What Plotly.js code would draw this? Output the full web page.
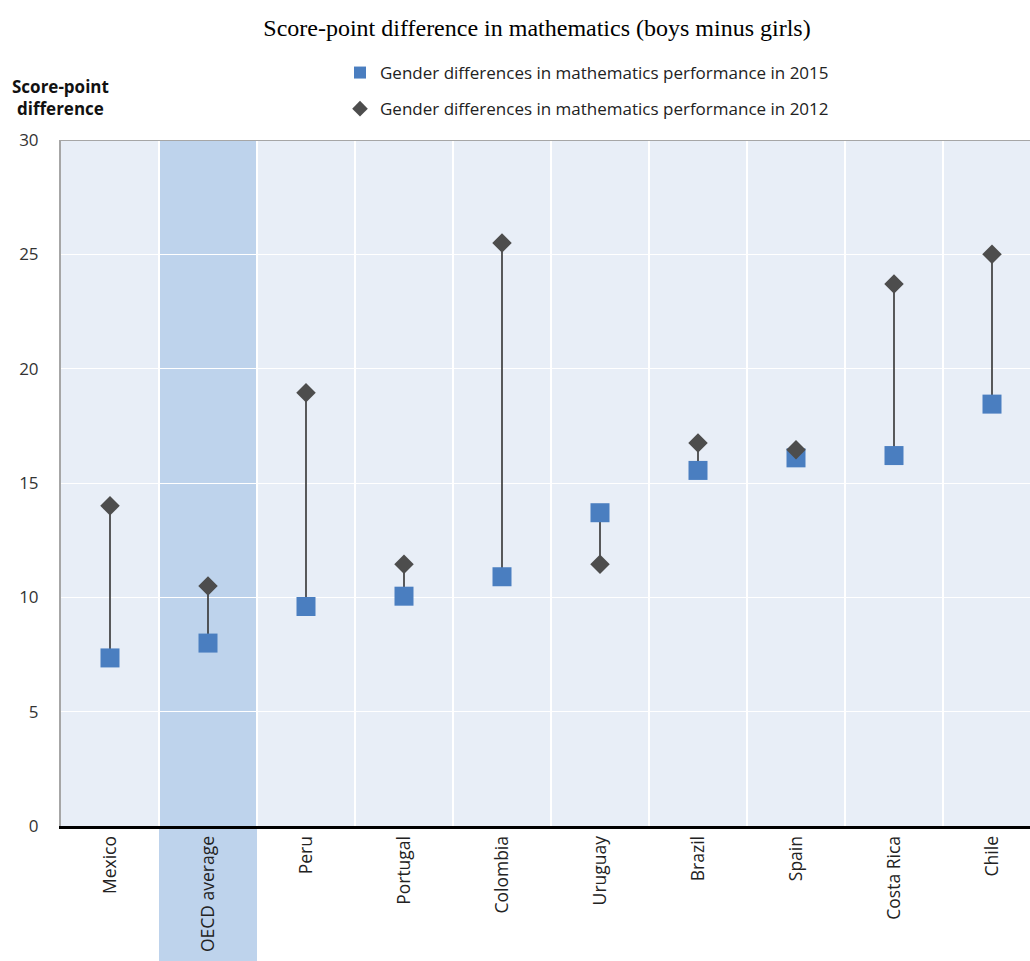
<!DOCTYPE html>
<html>
<head>
<meta charset="utf-8">
<script src="https://cdn.plot.ly/plotly-3.0.1.min.js"></script>
<style>html,body{margin:0;padding:0;background:#fff;}#chart{width:1030px;height:961px;}</style>
</head>
<body>
<div id="chart"></div>
<script>
const categories = ["Mexico","OECD average","Peru","Portugal","Colombia","Uruguay","Brazil","Spain","Costa Rica","Chile"];
const values2015 = [7.35, 8.0, 9.6, 10.05, 10.9, 13.7, 15.55, 16.1, 16.2, 18.45];
const values2012 = [14.0, 10.5, 18.95, 11.45, 25.5, 11.45, 16.75, 16.45, 23.7, 25.0];
const name2015 = "Gender differences in mathematics performance in 2015";
const name2012 = "Gender differences in mathematics performance in 2012";
const highlighted = "OECD average";

const lineX = [], lineY = [];
categories.forEach((c, i) => {
  lineX.push(c, c, null);
  lineY.push(values2015[i], values2012[i], null);
});
const hi = categories.indexOf(highlighted);

const font = "'Open Sans', 'DejaVu Sans', sans-serif";
const plotH = 686;

const traces = [
  {x: lineX, y: lineY, type: 'scatter', mode: 'lines', line: {color: '#333333', width: 1.6},
   showlegend: false, hoverinfo: 'skip', connectgaps: false},
  {x: categories, y: values2015, type: 'scatter', mode: 'markers', name: name2015, legendgroup: 'a',
   marker: {symbol: 'square', size: 19, color: '#4a7ec0'}},
  {x: categories, y: values2012, type: 'scatter', mode: 'markers', name: name2012, legendgroup: 'b',
   marker: {symbol: 'diamond', size: 15, color: '#4d4d4d'}}
];

const layout = {
  width: 1030, height: 961,
  margin: {l: 61, r: 0, t: 140, b: 135},
  paper_bgcolor: '#ffffff',
  plot_bgcolor: '#e8eef7',
  font: {family: font, size: 15, color: '#222222'},
  title: {text: 'Score-point difference in mathematics (boys minus girls)',
          font: {family: "'Liberation Serif', 'Times New Roman', serif", size: 24, color: '#000'},
          x: 537/1030, xanchor: 'center', y: 1 - 28/961, yanchor: 'middle'},
  showlegend: true,
  legend: {x: 279/969, xanchor: 'left', y: 1 + (140 - 55)/plotH, yanchor: 'top',
           font: {family: font, size: 17, color: '#222'}, bgcolor: 'rgba(0,0,0,0)',
           itemsizing: 'constant', tracegroupgap: 11, traceorder: 'grouped'},
  xaxis: {type: 'category', range: [-0.5, -0.5 + 969/98], tickangle: -90,
          showgrid: true, gridcolor: '#ffffff', gridwidth: 1.5, tickson: 'boundaries',
          ticks: '', showline: true, linecolor: '#000000', linewidth: 3,
          tickfont: {family: font, size: 17.5, color: '#222'}, fixedrange: true},
  yaxis: {range: [0, 30], dtick: 5, showgrid: true, gridcolor: '#ffffff', gridwidth: 1,
          zeroline: false, showline: true, linecolor: '#a6a6a6', linewidth: 2,
          ticks: '', ticklabelstandoff: 17, tickfont: {family: font, size: 17, color: '#333'}, fixedrange: true},
  shapes: [
    {type: 'rect', layer: 'below', xref: 'x', yref: 'paper', x0: hi - 0.5, x1: hi + 0.5, y0: -135/plotH, y1: 1,
     fillcolor: '#bed3ec', line: {width: 0}},
    {type: 'line', xref: 'paper', yref: 'y', x0: 0, x1: 1, y0: 30, y1: 30, line: {color: '#a6a6a6', width: 2}}
  ],
  annotations: [
    {text: '<b>Score-point<br>difference</b>', xref: 'paper', yref: 'paper', x: 0, xshift: -1,
     xanchor: 'center', y: 1 + (140 - 97)/plotH, yanchor: 'middle', showarrow: false, align: 'center',
     font: {family: font, size: 17, color: '#111'}}
  ]
};

Plotly.newPlot('chart', traces, layout, {displayModeBar: false, staticPlot: true});
</script>
</body>
</html>
